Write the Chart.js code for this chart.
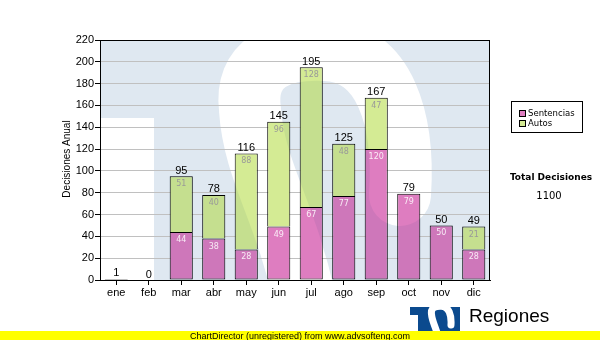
<!DOCTYPE html>
<html>
<head>
<meta charset="utf-8">
<script src="https://cdn.jsdelivr.net/npm/chart.js@4"></script>
<style>
    html, body { margin: 0; padding: 0; background: #fff; }
</style>
</head>
<body>
<canvas id="decisionsChart" width="600" height="340"></canvas>
<script>
// Decisiones por mes

const months = ['ene', 'feb', 'mar', 'abr', 'may', 'jun', 'jul', 'ago', 'sep', 'oct', 'nov', 'dic'];
const sentencias = [1, 0, 44, 38, 28, 49, 67, 77, 120, 79, 50, 28];
const autos = [0, 0, 51, 40, 88, 96, 128, 48, 47, 0, 0, 21];
const yMax = 220;
const yStep = 20;

const totals = months.map((m, i) => sentencias[i] + autos[i]);
const totalDecisiones = totals.reduce((a, b) => a + b, 0);

const pink = '#de7dc0';
const green = '#d4eb94';
const wallBlue = '#dfe8f1';
const arial = '"Liberation Sans", Arial, sans-serif';
const verdana = '"DejaVu Sans", Verdana, sans-serif';

// white S of the logo, in units relative to the corner under the T bar
const drawS = (ctx, ox, oy, k) => {
    const p = (x, y) => [ox + x * k, oy + y * k];
    ctx.beginPath();
    ctx.moveTo(...p(246, 77));
    ctx.bezierCurveTo(...p(251, 2), ...p(231, -66), ...p(171, -68));
    ctx.bezierCurveTo(...p(126, -70), ...p(90, -56), ...p(96, -8));
    ctx.bezierCurveTo(...p(100, 52), ...p(131, 92), ...p(151, 182));
    ctx.stroke();
};

// logo wallpaper painted on its own canvas
const makeWallpaper = (chart) => {
    const area = chart.chartArea;
    const off = document.createElement('canvas');
    off.width = chart.width;
    off.height = chart.height;
    const o = off.getContext('2d');
    o.fillStyle = '#fff';
    o.fillRect(0, 0, off.width, off.height);
    o.fillStyle = wallBlue;
    o.fillRect(area.left, area.top, area.right - area.left, area.bottom - area.top);
    o.fillStyle = '#fff';
    o.fillRect(area.left, 118, 54, area.bottom - 118);
    o.strokeStyle = '#fff';
    o.lineWidth = 62;
    o.lineCap = 'round';
    drawS(o, 154, 118, 1);
    return off;
};

const decorations = {
    id: 'decorations',
    beforeDraw(chart) {
        const ctx = chart.ctx;
        const area = chart.chartArea;
        chart.$wall = makeWallpaper(chart);
        ctx.save();
        ctx.fillStyle = '#fff';
        ctx.fillRect(0, 0, chart.width, chart.height);
        ctx.beginPath();
        ctx.rect(area.left, area.top, area.right - area.left, area.bottom - area.top);
        ctx.clip();
        ctx.drawImage(chart.$wall, 0, 0);
        ctx.restore();
    },
    afterDatasetsDraw(chart) {
        const ctx = chart.ctx;
        const area = chart.chartArea;

        // let the wallpaper show faintly through the bars
        ctx.save();
        ctx.beginPath();
        chart.data.datasets.forEach((ds, d) => {
            chart.getDatasetMeta(d).data.forEach(el => {
                if (el.y == null || isNaN(el.y)) return;
                const top = Math.min(el.y, el.base);
                ctx.rect(el.x - el.width / 2, top, el.width, Math.abs(el.base - el.y));
            });
        });
        ctx.clip();
        ctx.globalCompositeOperation = 'multiply';
        ctx.globalAlpha = 0.55;
        ctx.drawImage(chart.$wall, 0, 0);
        ctx.restore();

        // plot border
        ctx.save();
        ctx.strokeStyle = '#000';
        ctx.lineWidth = 1;
        ctx.strokeRect(area.left + 0.5, area.top + 0.5, area.right - area.left - 1, area.bottom - area.top);
        ctx.restore();

        // value labels
        const xScale = chart.scales.x;
        const yScale = chart.scales.y;
        ctx.save();
        ctx.textAlign = 'center';
        months.forEach((m, i) => {
            const x = xScale.getPixelForValue(i);
            if (sentencias[i] >= 5) {
                const top = yScale.getPixelForValue(sentencias[i]);
                ctx.font = '8px ' + verdana;
                ctx.fillStyle = 'rgba(255,255,255,0.85)';
                ctx.fillText(String(sentencias[i]), x, top + 10);
            }
            if (autos[i] >= 5) {
                const top = yScale.getPixelForValue(totals[i]);
                ctx.font = '8px ' + verdana;
                ctx.fillStyle = '#999';
                ctx.fillText(String(autos[i]), x, top + 10);
            }
            const top = yScale.getPixelForValue(totals[i]);
            ctx.font = '11px ' + arial;
            ctx.fillStyle = '#000';
            ctx.fillText(String(totals[i]), x, top - 2.5);
        });
        ctx.restore();
    },
    afterDraw(chart) {
        const ctx = chart.ctx;
        ctx.save();

        // axis title
        ctx.save();
        ctx.translate(67, 159);
        ctx.rotate(-Math.PI / 2);
        ctx.font = '10px ' + arial;
        ctx.fillStyle = '#000';
        ctx.textAlign = 'center';
        ctx.textBaseline = 'middle';
        ctx.fillText('Decisiones Anual', 0, 0);
        ctx.restore();

        // legend
        ctx.fillStyle = '#fff';
        ctx.fillRect(511.5, 101.5, 71, 31);
        ctx.strokeStyle = '#000';
        ctx.lineWidth = 1;
        ctx.strokeRect(511.5, 101.5, 71, 31);
        [[chart.data.datasets[0], 110.5], [chart.data.datasets[1], 120.5]].forEach(([ds, y]) => {
            ctx.fillStyle = ds.backgroundColor;
            ctx.fillRect(519.5, y, 6, 6);
            ctx.strokeRect(519.5, y, 6, 6);
            ctx.fillStyle = '#000';
            ctx.font = '8.5px ' + verdana;
            ctx.textAlign = 'left';
            ctx.textBaseline = 'middle';
            ctx.fillText(ds.label, 528, y + 3);
        });

        // total
        ctx.textAlign = 'center';
        ctx.textBaseline = 'middle';
        ctx.font = 'bold 9px ' + verdana;
        ctx.fillText('Total Decisiones', 551, 178);
        ctx.font = '10px ' + verdana;
        ctx.fillText(String(totalDecisiones), 549, 196);

        // logo
        ctx.save();
        ctx.beginPath();
        ctx.rect(410, 307, 50, 24);
        ctx.clip();
        ctx.fillStyle = '#0b4a8e';
        ctx.fillRect(410, 307, 50, 24);
        ctx.fillStyle = '#fff';
        ctx.fillRect(410, 315, 8, 16);
        ctx.strokeStyle = '#fff';
        ctx.lineWidth = 7;
        ctx.lineCap = 'round';
        drawS(ctx, 419, 315, 0.13);
        ctx.restore();

        ctx.fillStyle = '#000';
        ctx.textAlign = 'left';
        ctx.textBaseline = 'alphabetic';
        ctx.font = '19px ' + arial;
        ctx.fillText('Regiones', 469, 322);

        // footer band
        ctx.fillStyle = '#ffff00';
        ctx.fillRect(0, 331, 600, 9);
        ctx.fillStyle = '#000';
        ctx.font = '9px ' + arial;
        ctx.fillText('ChartDirector (unregistered) from www.advsofteng.com', 190, 338.5);

        ctx.restore();
    }
};

const decisionsChart = document.getElementById('decisionsChart');

const bar = new Chart(decisionsChart, {
    type: 'bar',
    data: {
        labels: months,
        datasets: [{
            label: 'Sentencias',
            data: sentencias.map(v => v || null),
            backgroundColor: pink,
            borderColor: '#000',
            borderWidth: 1,
            borderSkipped: false,
        }, {
            label: 'Autos',
            data: autos.map(v => v || null),
            backgroundColor: green,
            borderColor: '#000',
            borderWidth: 1,
            borderSkipped: 'bottom',
        }],
    },
    options: {
        responsive: false,
        animation: false,
        layout: { padding: { top: 40, right: 110, left: 0, bottom: 0 } },
        datasets: { bar: { categoryPercentage: 1, barPercentage: 0.71 } },
        plugins: {
            legend: { display: false },
            tooltip: { enabled: false },
        },
        scales: {
            x: {
                stacked: true,
                grid: { offset: false, drawOnChartArea: false, tickLength: 5, tickColor: '#000' },
                border: { color: '#000' },
                ticks: { color: '#000', font: { family: arial, size: 11 }, padding: 1, maxRotation: 0, autoSkip: false },
                afterFit: scale => { scale.height = 60; },
            },
            y: {
                stacked: true,
                min: 0,
                max: yMax,
                ticks: { stepSize: yStep, color: '#000', font: { family: arial, size: 11 }, padding: 1 },
                grid: { color: '#c0c0c0', tickColor: '#000', tickLength: 5 },
                border: { color: '#000' },
                afterFit: scale => { scale.width = 100; },
            },
        },
    },
    plugins: [decorations],
});
</script>
</body>
</html>
